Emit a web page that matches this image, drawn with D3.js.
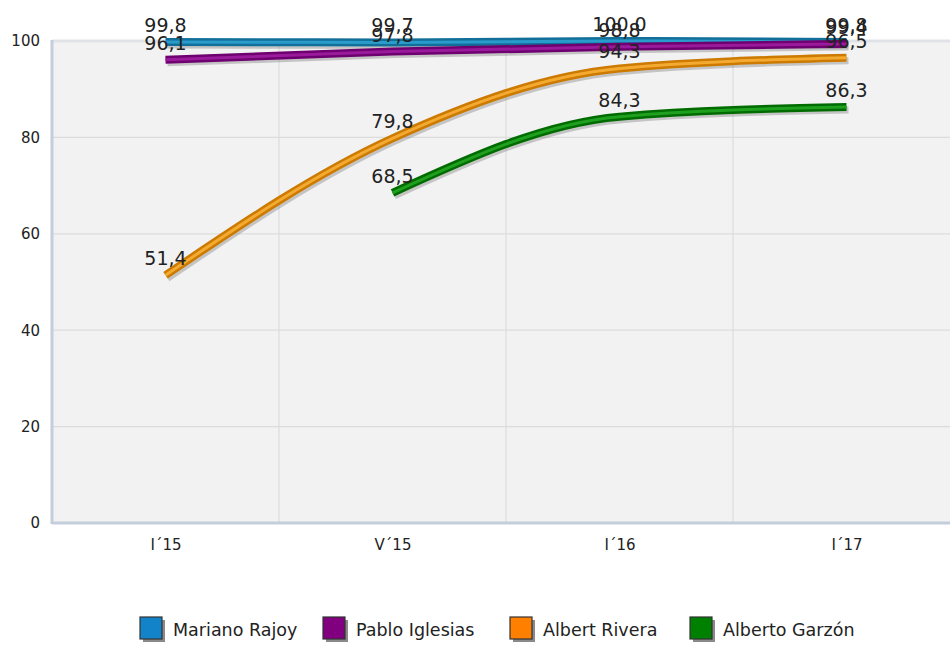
<!DOCTYPE html>
<html><head><meta charset="utf-8">
<script src="https://cdn.jsdelivr.net/npm/d3@7"></script>
<style>body{margin:0;background:#fff;}svg{display:block;font-family:"DejaVu Sans",Verdana,sans-serif;}</style>
</head><body><svg id="c" width="950" height="646"></svg>
<script>
const categories = ["I´15", "V´15", "I´16", "I´17"];
const seriesNames = ["Mariano Rajoy", "Pablo Iglesias", "Albert Rivera", "Alberto Garzón"];
const rajoy = [99.8, 99.7, 100.0, 99.8];
const iglesias = [96.1, 97.8, 98.8, 99.4];
const rivera = [51.4, 79.8, 94.3, 96.5];
const garzon = [null, 68.5, 84.3, 86.3];
const yTicks = [0, 20, 40, 60, 80, 100];
const colors = [
  {dark:"#126f99", light:"#2a9ccc", swatch:"#1283c8"},
  {dark:"#6e0070", light:"#9a1a9c", swatch:"#800080"},
  {dark:"#cc7a00", light:"#f4aa30", swatch:"#ff8000"},
  {dark:"#006c00", light:"#1fa01f", swatch:"#008000"}
];
const seriesValues = [rajoy, iglesias, rivera, garzon];

(function(){
const svg = d3.select("#c");
const pL = 52, pR = 960, pT = 41, pB = 523;
const x = d3.scalePoint().domain(categories).range([pL, pR]).padding(0.5);
const xb = d3.scaleBand().domain(categories).range([pL, pR]);
const y = d3.scaleLinear().domain([0, 100]).range([pB, pT]);

svg.append("rect").attr("x", pL).attr("y", pT).attr("width", pR-pL).attr("height", pB-pT).attr("fill", "#f2f2f2");
svg.append("g").selectAll("line").data(yTicks.filter(d=>d>0)).join("line")
  .attr("x1", pL).attr("x2", pR).attr("y1", d=>y(d)).attr("y2", d=>y(d))
  .attr("stroke", d=>d===100?"#dfe3e8":"#dcdcdc").attr("stroke-width", d=>d===100?3:1.2);
svg.append("g").selectAll("line").data(categories.slice(1)).join("line")
  .attr("x1", d=>xb(d)).attr("x2", d=>xb(d)).attr("y1", pT).attr("y2", pB)
  .attr("stroke", "#dcdcdc").attr("stroke-width", 1.2);
svg.append("line").attr("x1", pL).attr("x2", pL).attr("y1", pT-1).attr("y2", pB+1).attr("stroke", "#c3cddb").attr("stroke-width", 3);
svg.append("line").attr("x1", pL).attr("x2", pR).attr("y1", pB).attr("y2", pB).attr("stroke", "#c3cddb").attr("stroke-width", 3);

const yAxis = d3.axisLeft(y).tickValues(yTicks).tickSize(0).tickPadding(12);
const gy = svg.append("g").attr("transform", `translate(${pL},0)`).call(yAxis);
gy.select(".domain").remove();
gy.selectAll("text").attr("font-size", 15).attr("fill", "#222").attr("font-family", "DejaVu Sans");
const xAxis = d3.axisBottom(x).tickSize(0).tickPadding(16);
const gx = svg.append("g").attr("transform", `translate(0,${pB})`).call(xAxis);
gx.select(".domain").remove();
gx.selectAll("text").attr("font-size", 15).attr("fill", "#222").attr("font-family", "DejaVu Sans");

const line = d3.line().defined(d=>d.v!=null).x(d=>x(d.c)).y(d=>y(d.v)).curve(d3.curveMonotoneX);
const data = seriesValues.map((vals,i)=>({name:seriesNames[i], pts: vals.map((v,j)=>({c:categories[j], v}))}));

const gl = svg.append("g");
data.forEach((s,i)=>{
  const pts = s.pts.filter(p=>p.v!=null);
  gl.append("path").attr("d", line(pts)).attr("fill","none").attr("stroke","rgba(90,90,90,0.3)").attr("stroke-width",7).attr("transform","translate(2,3)");
  gl.append("path").attr("d", line(pts)).attr("fill","none").attr("stroke",colors[i].dark).attr("stroke-width",8);
  gl.append("path").attr("d", line(pts)).attr("fill","none").attr("stroke",colors[i].light).attr("stroke-width",3);
});
const glab = svg.append("g");
data.forEach((s,i)=>{
  s.pts.filter(p=>p.v!=null).forEach(p=>{
    glab.append("text").attr("x", x(p.c)).attr("y", y(p.v)-10).attr("text-anchor","middle")
      .attr("font-size", 19).attr("fill", "#222").text(d3.format(".1f")(p.v).replace(".", ","));
  });
});

const legX = [140, 323, 510, 690];
const lg = svg.append("g");
seriesNames.forEach((n,i)=>{
  const g = lg.append("g").attr("transform", `translate(${legX[i]},617)`);
  g.append("rect").attr("x",3).attr("y",3).attr("width",22).attr("height",22).attr("fill","#8a8a8a");
  g.append("rect").attr("x",0).attr("y",0).attr("width",22).attr("height",22).attr("fill",colors[i].swatch).attr("stroke","#333").attr("stroke-width",1.2);
  g.append("text").attr("x",33).attr("y",19).attr("font-size",17.5).attr("fill","#222").attr("font-family","DejaVu Sans").text(n);
});
})();
</script></body></html>
